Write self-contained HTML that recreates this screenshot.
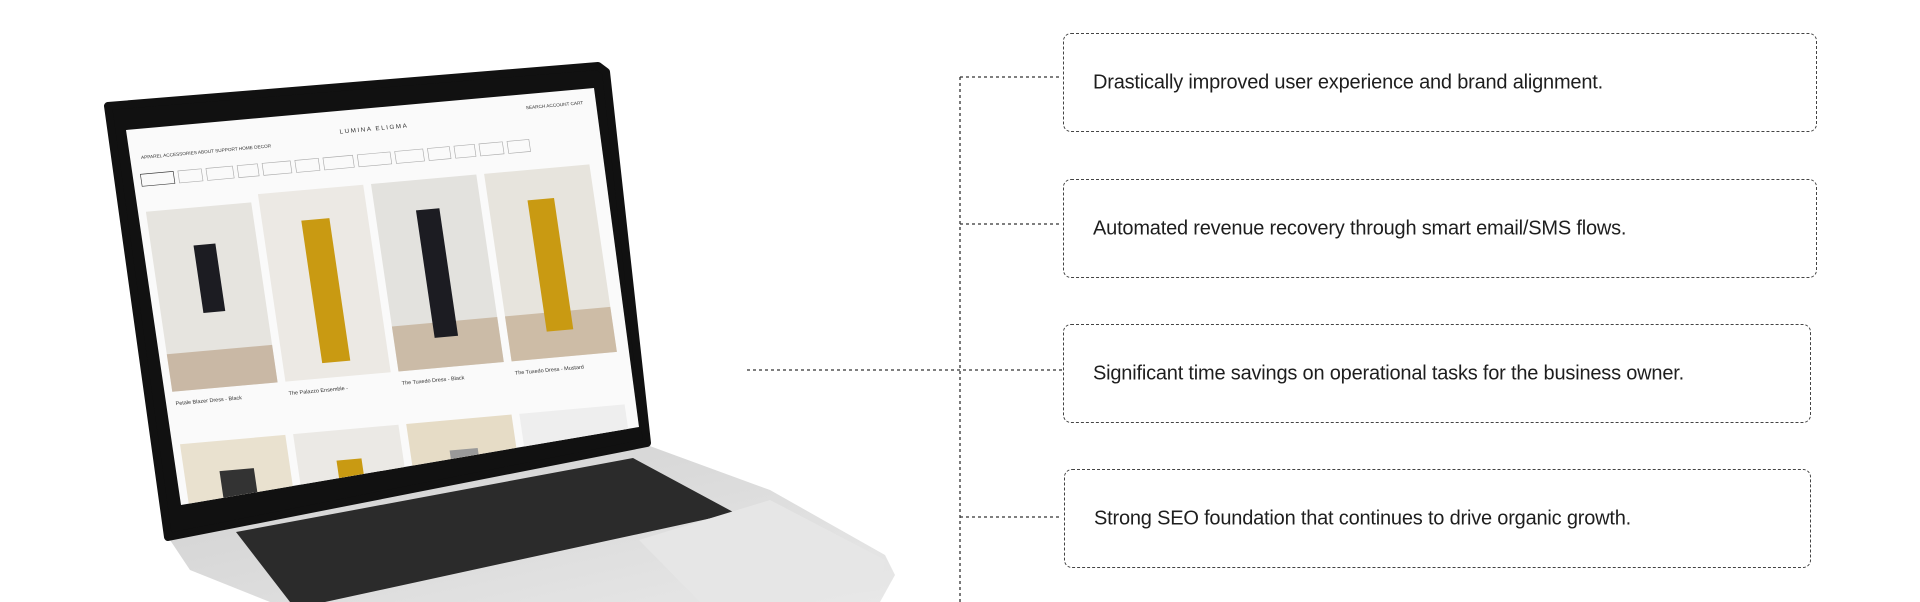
<!DOCTYPE html>
<html><head><meta charset="utf-8"><style>
html,body{margin:0;padding:0;background:#fff;}
body{width:1920px;height:602px;position:relative;overflow:hidden;font-family:"Liberation Sans",sans-serif;}
.box{position:absolute;border:1.5px dashed #444;border-radius:8px;box-sizing:border-box;}
.box span{position:absolute;left:29px;top:50%;transform:translateY(-50%);font-size:20px;color:#1e1e1e;white-space:nowrap;letter-spacing:-0.2px;}
</style></head><body>
<svg width="1920" height="602" style="position:absolute;left:0;top:0">
<defs>
<clipPath id="scr"><polygon points="126,130 594,88 639,427 181,505"/></clipPath>
<linearGradient id="bg" x1="0" y1="0" x2="1" y2="1"><stop offset="0" stop-color="#cfcfcf"/><stop offset="1" stop-color="#e8e8e8"/></linearGradient>
</defs>
<g stroke="#333" stroke-width="1.3" stroke-dasharray="3,3" fill="none">
<line x1="960" y1="77" x2="960" y2="602"/>
<line x1="960" y1="77" x2="1062" y2="77"/>
<line x1="960" y1="224" x2="1062" y2="224"/>
<line x1="747" y1="370" x2="1062" y2="370"/>
<line x1="960" y1="517" x2="1062" y2="517"/>
</g>
<!-- laptop base -->
<polygon points="168,537 647,445 770,490 885,555 895,575 880,602 270,602 190,570" fill="url(#bg)"/>
<polygon points="236,532 633,458 735,513 325,602 290,602" fill="#2b2b2b"/>
<polygon points="639,540 770,500 885,560 880,590 760,602 700,602" fill="#e6e6e6"/>
<!-- bezel -->
<polygon points="108,106 598,66 606,72 647,443 168,537" fill="#111" stroke="#111" stroke-width="8" stroke-linejoin="round"/>
<polygon points="126,130 594,88 639,427 181,505" fill="#fafafa"/>
<g clip-path="url(#scr)">
<g transform="matrix(0.78,-0.07,0.11,0.75,126,130)" font-family="Liberation Sans" fill="#333">
<text x="14" y="40" font-size="6">APPAREL   ACCESSORIES   ABOUT   SUPPORT   HOME DECOR</text>
<text x="270" y="30" font-size="8" letter-spacing="2">LUMINA ELIGMA</text>
<text x="510" y="20" font-size="6">SEARCH  ACCOUNT  CART</text>
<g fill="none" stroke="#aaa" stroke-width="0.8">
<rect x="10" y="60" width="42" height="16" stroke="#333"/><rect x="58" y="60" width="30" height="16"/><rect x="94" y="60" width="34" height="16"/><rect x="134" y="60" width="26" height="16"/><rect x="166" y="60" width="36" height="16"/><rect x="208" y="60" width="30" height="16"/><rect x="244" y="60" width="38" height="16"/><rect x="288" y="60" width="42" height="16"/><rect x="336" y="60" width="36" height="16"/><rect x="378" y="60" width="28" height="16"/><rect x="412" y="60" width="26" height="16"/><rect x="444" y="60" width="30" height="16"/><rect x="480" y="60" width="28" height="16"/>
</g>
<rect x="10" y="110" width="135" height="240" fill="#e6e4df"/>
<rect x="155" y="100" width="135" height="250" fill="#ece9e4"/>
<rect x="300" y="100" width="135" height="250" fill="#e3e2de"/>
<rect x="445" y="100" width="135" height="250" fill="#e7e4dd"/>
<rect x="10" y="300" width="135" height="50" fill="#c9b8a5"/>
<rect x="300" y="290" width="135" height="60" fill="#cbbba7"/>
<rect x="445" y="290" width="135" height="60" fill="#cdbca6"/>
<rect x="64" y="160" width="28" height="90" fill="#1c1c22"/>
<rect x="205" y="140" width="36" height="190" fill="#c99a12"/>
<rect x="352" y="140" width="30" height="170" fill="#1c1c22"/>
<rect x="495" y="140" width="34" height="175" fill="#c99a12"/>
<text x="12" y="368" font-size="7">Petale Blazer Dress - Black</text>
<text x="157" y="368" font-size="7">The Palazzo Ensemble -</text>
<text x="302" y="368" font-size="7">The Tuxedo Dress - Black</text>
<text x="447" y="368" font-size="7">The Tuxedo Dress - Mustard</text>
<rect x="10" y="420" width="135" height="120" fill="#e9e1cf"/>
<rect x="155" y="420" width="135" height="120" fill="#ebe9e5"/>
<rect x="300" y="420" width="135" height="120" fill="#e6dcc6"/>
<rect x="445" y="420" width="135" height="120" fill="#eeeeee"/>
<rect x="55" y="460" width="44" height="80" fill="#333"/>
<rect x="205" y="460" width="32" height="80" fill="#c99a12"/>
<rect x="350" y="460" width="36" height="80" fill="#999"/>
<rect x="495" y="460" width="34" height="80" fill="#222"/>
</g>
</g>
</svg>
<div class="box" style="left:1063px;top:33px;width:754px;height:99px"><span>Drastically improved user experience and brand alignment.</span></div>
<div class="box" style="left:1063px;top:179px;width:754px;height:99px"><span>Automated revenue recovery through smart email/SMS flows.</span></div>
<div class="box" style="left:1063px;top:324px;width:748px;height:99px"><span>Significant time savings on operational tasks for the business owner.</span></div>
<div class="box" style="left:1064px;top:469px;width:747px;height:99px"><span>Strong SEO foundation that continues to drive organic growth.</span></div>
</body></html>
